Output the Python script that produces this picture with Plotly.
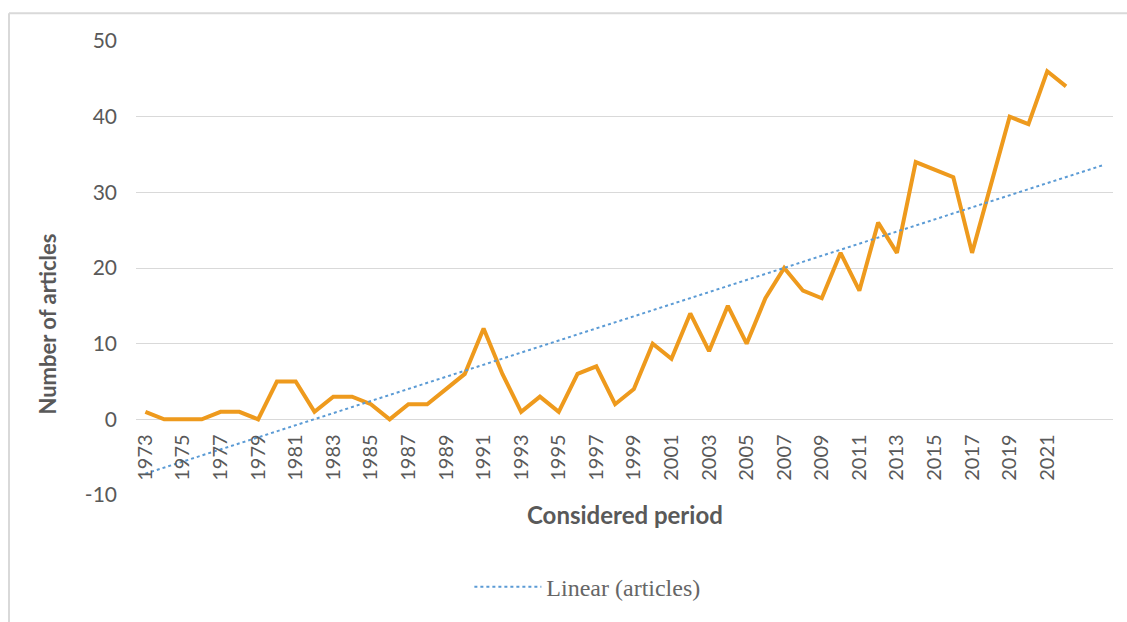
import numpy as np
import plotly.graph_objects as go

# Articles published per year
years = list(range(1973, 2023))
articles = [1, 0, 0, 0, 1, 1, 0, 5, 5, 1,
            3, 3, 2, 0, 2, 2, 4, 6, 12, 6,
            1, 3, 1, 6, 7, 2, 4, 10, 8, 14,
            9, 15, 10, 16, 20, 17, 16, 22, 17, 26,
            22, 34, 33, 32, 22, 31, 40, 39, 46, 44]

# Linear trend, projected two periods forward
forecast_periods = 2
coef = np.polyfit(years, articles, 1)
trend_years = list(range(years[0], years[-1] + forecast_periods + 1))
trend_values = np.polyval(coef, trend_years)

tick_years = years[::2]
y_ticks = [-10, 0, 10, 20, 30, 40, 50]
y_min, y_max = y_ticks[0], y_ticks[-1]

GRID = "#d9d9d9"
TEXT = "#595959"
FONT = "Lato"

fig = go.Figure()
fig.add_trace(go.Scatter(
    x=years, y=articles, mode="lines", name="articles",
    line=dict(color="#EE9A1D", width=4), showlegend=False,
))
fig.add_trace(go.Scatter(
    x=trend_years, y=trend_values, mode="lines", name="Linear (articles)",
    line=dict(color="#5B9BD5", width=2, dash="dot"),
))

fig.update_layout(
    width=1127, height=622,
    margin=dict(l=136, r=14, t=41, b=123),
    paper_bgcolor="white", plot_bgcolor="white",
    xaxis=dict(
        range=[years[0] - 0.5, trend_years[-1] + 0.5],
        tickmode="array", tickvals=tick_years,
        ticktext=[str(y) for y in tick_years],
        tickangle=-90, showgrid=False, zeroline=False, showline=False,
        anchor="free", position=(0 - y_min) / (y_max - y_min),
        ticklabelstandoff=10,
        tickfont=dict(family=FONT, size=20, color=TEXT),
    ),
    yaxis=dict(
        range=[y_min, y_max], tickmode="array", tickvals=y_ticks,
        ticktext=[str(v) for v in y_ticks],
        showgrid=True, gridcolor=GRID,
        gridwidth=1, zeroline=False, showline=False,
        ticklabelstandoff=18,
        tickfont=dict(family=FONT, size=21, color=TEXT),
    ),
    legend=dict(
        orientation="h", x=0.462, y=-0.203, xanchor="center", yanchor="middle",
        font=dict(family="Liberation Serif", size=24, color="#666666"),
        bgcolor="rgba(0,0,0,0)", itemwidth=67,
    ),
    annotations=[
        dict(text="<b>Considered period</b>", xref="paper", yref="paper",
             x=0.5, y=-0.0437, xanchor="center", yanchor="middle",
             showarrow=False, font=dict(family=FONT, size=24, color=TEXT)),
        dict(text="<b>Number of articles</b>", xref="paper", yref="paper",
             x=-0.091, y=0.3755, xanchor="center", yanchor="middle",
             textangle=-90, showarrow=False,
             font=dict(family=FONT, size=22, color=TEXT)),
    ],
    shapes=[
        # chart frame (left and top edges)
        dict(type="line", xref="paper", yref="paper",
             x0=-0.130, x1=-0.130, y0=-0.3, y1=1.061,
             line=dict(color=GRID, width=2)),
        dict(type="line", xref="paper", yref="paper",
             x0=-0.130, x1=1.02, y0=1.061, y1=1.061,
             line=dict(color=GRID, width=2)),
    ],
)

fig.write_html("out.html")
